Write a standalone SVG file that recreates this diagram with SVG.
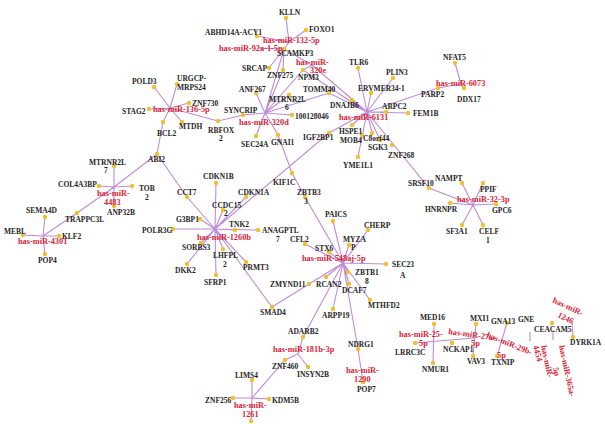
<svg xmlns="http://www.w3.org/2000/svg" width="605" height="424" viewBox="0 0 605 424">
<style>
.e{stroke:#bf8ad6;stroke-width:1.1;fill:none}
.d{fill:#f2c02e}
.t{font-family:"Liberation Serif",serif;font-weight:bold;font-size:7.5px;fill:#1e1e1e}
.m{font-family:"Liberation Serif",serif;font-weight:bold;font-size:8.3px;fill:#d92438}
</style>
<rect width="605" height="424" fill="#fff"/>
<g id="edges">
<path class="e" d="M289,42 L286,18 M289,42 L257,36 M289,42 L306,30 M289,42 L284,49 M258,48 L284,49
M284,49 L269,68 M284,49 L312,65 M284,49 L283,70 M284,49 L265,113
M312,65 L303,70 M312,65 L367,112 M303,70 L265,113 M283,70 L265,113 M303,70 L367,112
M265,113 L256,93 M265,113 L289,95 M265,113 L329,93 M265,113 L292,115 M265,113 L243,115 M265,113 L256,136 M265,113 L278,135
M170,108 L154,87 M170,108 L177,84 M170,108 L149,109 M170,108 L189,103 M170,108 L182,122 M170,108 L163,122 M170,108 L218,121 L243,115
M163,122 L157,154 M157,154 L114,187 L77,213 L43,236 M157,154 L187,197 L215,229
M114,187 L114,166 M114,187 L99,186 M114,187 L132,186 M114,187 L114,206
M43,236 L45,217 M43,236 L23,235 M43,236 L59,236 M43,236 L45,254
M215,229 L216,183 M215,229 L246,197 M215,229 L329,133 L367,112 M215,229 L223,210 M215,229 L200,219 M215,229 L235,230 M215,229 L173,229 M215,229 L258,230
M215,229 L201,243 M215,229 L223,249 M215,229 L187,264 M215,229 L246,262 M215,229 L216,275 M215,229 L272,307 L343,263
M278,135 L292,173 L305,197 L343,263
M343,263 L305,244 M343,263 L333,221 M343,263 L368,230 M343,263 L349,245 M343,263 L329,252 M343,263 L386,264 M343,263 L348,272
M343,263 L326,277 M343,263 L349,284 M343,263 L370,300 M343,263 L333,309 M343,263 L303,337 M343,263 L358,349 L363,382
M303,337 L298,354 M298,354 L308,367 M298,354 L285,360 L252,398
M252,398 L252,380 M252,398 L233,398 M252,398 L269,399 M252,398 L251,421
M367,112 L358,68 M367,112 L393,78 M367,112 L371,93 M367,112 L352,100 M367,112 L329,93 M367,112 L386,112 M367,112 L408,113 M367,112 L438,88 L461,84
M461,84 L455,63 M461,84 L464,88
M367,112 L352,125 M367,112 L358,157 M367,112 L372,133 M367,112 L380,140 M367,112 L429,188 L473,205
M473,205 L462,183 M473,205 L483,183 M473,205 L496,204 M473,205 L462,225 M473,205 L483,225 M473,205 L450,203
M434,324 L433,363 M415,343 L474,338 M476,324 L473,356 M507,323 L497,356
M530,332 L530,341 M553,330 L553,340 M572,322 L573,337"/>
</g>
<g id="dots" class="d">
<circle cx="286" cy="18" r="2.2"/><circle cx="257" cy="36" r="2.2"/><circle cx="306" cy="30" r="2.2"/><circle cx="284" cy="49" r="2.2"/>
<circle cx="269" cy="68" r="2.2"/><circle cx="283" cy="70" r="2.2"/><circle cx="303" cy="70" r="2.2"/><circle cx="256" cy="93" r="2.2"/>
<circle cx="289" cy="95" r="2.2"/><circle cx="329" cy="93" r="2.2"/><circle cx="243" cy="115" r="2.2"/><circle cx="292" cy="115" r="2.2"/>
<circle cx="218" cy="121" r="2.2"/><circle cx="256" cy="136" r="2.2"/><circle cx="278" cy="135" r="2.2"/>
<circle cx="154" cy="87" r="2.2"/><circle cx="177" cy="84" r="2.2"/><circle cx="149" cy="109" r="2.2"/><circle cx="189" cy="103" r="2.2"/>
<circle cx="182" cy="122" r="2.2"/><circle cx="163" cy="122" r="2.2"/><circle cx="157" cy="154" r="2.2"/>
<circle cx="114" cy="166" r="2.2"/><circle cx="99" cy="186" r="2.2"/><circle cx="132" cy="186" r="2.2"/><circle cx="114" cy="206" r="2.2"/>
<circle cx="77" cy="213" r="2.2"/><circle cx="45" cy="217" r="2.2"/><circle cx="23" cy="235" r="2.2"/><circle cx="59" cy="236" r="2.2"/><circle cx="45" cy="254" r="2.2"/>
<circle cx="216" cy="183" r="2.2"/><circle cx="187" cy="197" r="2.2"/><circle cx="246" cy="197" r="2.2"/><circle cx="223" cy="210" r="2.2"/>
<circle cx="200" cy="219" r="2.2"/><circle cx="235" cy="230" r="2.2"/><circle cx="173" cy="229" r="2.2"/><circle cx="258" cy="230" r="2.2"/>
<circle cx="201" cy="243" r="2.2"/><circle cx="223" cy="249" r="2.2"/><circle cx="187" cy="264" r="2.2"/><circle cx="246" cy="262" r="2.2"/>
<circle cx="216" cy="275" r="2.2"/><circle cx="272" cy="307" r="2.2"/>
<circle cx="292" cy="173" r="2.2"/><circle cx="305" cy="197" r="2.2"/><circle cx="305" cy="244" r="2.2"/><circle cx="333" cy="221" r="2.2"/>
<circle cx="368" cy="230" r="2.2"/><circle cx="349" cy="245" r="2.2"/><circle cx="329" cy="252" r="2.2"/><circle cx="386" cy="264" r="2.2"/>
<circle cx="348" cy="272" r="2.2"/><circle cx="326" cy="277" r="2.2"/><circle cx="309" cy="284" r="2.2"/><circle cx="349" cy="284" r="2.2"/>
<circle cx="370" cy="300" r="2.2"/><circle cx="333" cy="309" r="2.2"/><circle cx="303" cy="337" r="2.2"/><circle cx="358" cy="349" r="2.2"/>
<circle cx="363" cy="382" r="2.2"/><circle cx="308" cy="367" r="2.2"/><circle cx="285" cy="360" r="2.2"/>
<circle cx="252" cy="380" r="2.2"/><circle cx="233" cy="398" r="2.2"/><circle cx="269" cy="399" r="2.2"/><circle cx="251" cy="421" r="2.2"/>
<circle cx="358" cy="68" r="2.2"/><circle cx="393" cy="78" r="2.2"/><circle cx="371" cy="93" r="2.2"/><circle cx="352" cy="100" r="2.2"/>
<circle cx="386" cy="112" r="2.2"/><circle cx="408" cy="113" r="2.2"/><circle cx="438" cy="88" r="2.2"/><circle cx="352" cy="125" r="2.2"/>
<circle cx="329" cy="133" r="2.2"/><circle cx="362" cy="135" r="2.2"/><circle cx="372" cy="133" r="2.2"/><circle cx="380" cy="140" r="2.2"/>
<circle cx="392" cy="145" r="2.2"/><circle cx="358" cy="157" r="2.2"/><circle cx="429" cy="188" r="2.2"/>
<circle cx="455" cy="63" r="2.2"/><circle cx="464" cy="88" r="2.2"/>
<circle cx="462" cy="183" r="2.2"/><circle cx="483" cy="183" r="2.2"/><circle cx="496" cy="204" r="2.2"/><circle cx="462" cy="225" r="2.2"/>
<circle cx="483" cy="225" r="2.2"/><circle cx="450" cy="203" r="2.2"/>
<circle cx="434" cy="324" r="2.2"/><circle cx="433" cy="363" r="2.2"/><circle cx="415" cy="343" r="2.2"/><circle cx="452" cy="343" r="2.2"/>
<circle cx="476" cy="324" r="2.2"/><circle cx="473" cy="356" r="2.2"/><circle cx="507" cy="323" r="2.2"/><circle cx="497" cy="356" r="2.2"/>
<circle cx="552" cy="323" r="2.2"/><circle cx="573" cy="337" r="2.2"/>
</g>
<g id="labels" class="t">
<text x="279" y="15">KLLN</text><text x="205" y="35">ABHD14A-ACY1</text><text x="309" y="32">FOXO1</text><text x="277" y="56">SCAMKP3</text>
<text x="242" y="71">SRCAP</text><text x="267" y="78">ZNF275</text><text x="298" y="80">NPM3</text><text x="239" y="92">ANF267</text>
<text x="269" y="102">MTRNR2L</text><text x="285" y="110">6</text><text x="303" y="92">TOMM40</text><text x="224" y="113">SYNCRIP</text>
<text x="295" y="119">100128046</text><text x="208" y="133">RBFOX</text><text x="219" y="141">2</text><text x="241" y="147">SEC24A</text><text x="271" y="145">GNAI1</text>
<text x="132" y="84">POLD3</text><text x="177" y="81">URGCP-</text><text x="177" y="90">MRPS24</text><text x="122" y="114">STAG2</text>
<text x="192" y="106">ZNF730</text><text x="179" y="129">MTDH</text><text x="157" y="136">BCL2</text><text x="148" y="162">ABI2</text>
<text x="89" y="165">MTRNR2L</text><text x="104" y="173">7</text><text x="58" y="187">COL4A3BP</text><text x="139" y="191">TOB</text><text x="145" y="200">2</text>
<text x="107" y="215">ANP32B</text><text x="65" y="222">TRAPPC3L</text><text x="26" y="213">SEMA4D</text><text x="4" y="234">MEBL</text>
<text x="62" y="239">KLF2</text><text x="38" y="263">POP4</text>
<text x="203" y="179">CDKN1B</text><text x="177" y="195">CCT7</text><text x="238" y="195">CDKN1A</text><text x="212" y="208">CCDC15</text><text x="224" y="216">2</text>
<text x="176" y="222">G3BP1</text><text x="229" y="227">TNK2</text><text x="142" y="233">POLR3G</text><text x="262" y="233">ANAGPTL</text><text x="276" y="242">7</text>
<text x="182" y="250">SORBS3</text><text x="213" y="258">LHFPL</text><text x="223" y="267">2</text><text x="175" y="273">DKK2</text><text x="243" y="270">PRMT3</text>
<text x="204" y="285">SFRP1</text><text x="260" y="315">SMAD4</text>
<text x="273" y="185">KIF1C</text><text x="297" y="195">ZBTB3</text><text x="304" y="204">3</text><text x="290" y="242">CFL2</text><text x="325" y="217">PAICS</text>
<text x="364" y="228">CHERP</text><text x="343" y="242">MYZA</text><text x="351" y="250">P</text><text x="315" y="251">STX6</text><text x="392" y="267">SEC23</text><text x="400" y="278">A</text>
<text x="355" y="275">ZBTB1</text><text x="365" y="284">8</text><text x="316" y="287">RCAN2</text><text x="270" y="287">ZMYND11</text><text x="342" y="293">DCAF7</text>
<text x="368" y="308">MTHFD2</text><text x="322" y="318">ARPP19</text><text x="288" y="334">ADARB2</text><text x="348" y="347">NDRG1</text><text x="357" y="392">POP7</text>
<text x="297" y="377">INSYN2B</text><text x="272" y="369">ZNF460</text>
<text x="235" y="378">LIMS4</text><text x="205" y="403">ZNF256</text><text x="272" y="403">KDM5B</text>
<text x="349" y="65">TLR6</text><text x="386" y="75">PLIN3</text><text x="358" y="91">ERVMER34-1</text><text x="330" y="108">DNAJB6</text>
<text x="382" y="109">ARPC2</text><text x="413" y="116">FEM1B</text><text x="421" y="97">PARP2</text><text x="339" y="134">HSPE1</text>
<text x="303" y="140">IGF2BP1</text><text x="340" y="143">MOB4</text><text x="363" y="141">C8orf44</text><text x="368" y="150">SGK3</text>
<text x="388" y="158">ZNF268</text><text x="343" y="168">YME1L1</text><text x="408" y="186">SRSF10</text>
<text x="443" y="60">NFAT5</text><text x="457" y="102">DDX17</text>
<text x="435" y="181">NAMPT</text><text x="480" y="192">PPIF</text><text x="492" y="213">GPC6</text><text x="446" y="234">SF3A1</text>
<text x="479" y="234">CELF</text><text x="486" y="243">1</text><text x="425" y="212">HNRNPR</text>
<text x="420" y="320">MED16</text><text x="422" y="372">NMUR1</text><text x="395" y="355">LRRC3C</text><text x="443" y="352">NCKAP1</text>
<text x="470" y="321">MXI1</text><text x="467" y="364">VAV3</text><text x="491" y="324">GNA13</text><text x="491" y="365">TXNIP</text>
<text x="518" y="322">GNE</text><text x="534" y="332">CEACAM5</text><text x="570" y="345">DYRK1A</text>
</g>
<g id="mirnas" class="m">
<text x="263" y="43">has-miR-132-5p</text><text x="219" y="51">has-miR-92a-1-5p</text>
<text x="296" y="65">has-miR-</text><text x="310" y="73">320e</text><text x="239" y="125">has-miR-320d</text>
<text x="153" y="112">has-miR-136-5p</text><text x="97" y="196">has-miR-</text><text x="104" y="205">4483</text>
<text x="18" y="244">has-miR-4301</text><text x="197" y="240">has-miR-1260b</text><text x="302" y="261">has-miR-548aj-5p</text>
<text x="273" y="352">has-miR-181b-3p</text><text x="346" y="373">has-miR-</text><text x="354" y="382">1290</text>
<text x="234" y="408">has-miR-</text><text x="242" y="417">1261</text>
<text x="339" y="120">has-miR-6131</text><text x="436" y="86">has-miR-6073</text><text x="457" y="202">has-miR-32-3p</text>
<text x="399" y="337">has-miR-25-</text><text x="419" y="346">5p</text>
<text transform="translate(448,334) rotate(8)">has-miR-27a-</text><text x="471" y="346">5p</text>
<text transform="translate(486,337) rotate(22)">has-miR-29b-</text><text x="497" y="358">5p</text>
<text transform="translate(533,346) rotate(75)">4454</text>
<text transform="translate(541,346) rotate(78)">has-miR-</text><text transform="translate(553,368) rotate(78)">5p</text>
<text transform="translate(559,346) rotate(78)">has-miR-365a-</text>
<text transform="translate(552,302) rotate(25)">has-miR-</text><text transform="translate(557,317) rotate(25)">1246</text>
</g>
</svg>
